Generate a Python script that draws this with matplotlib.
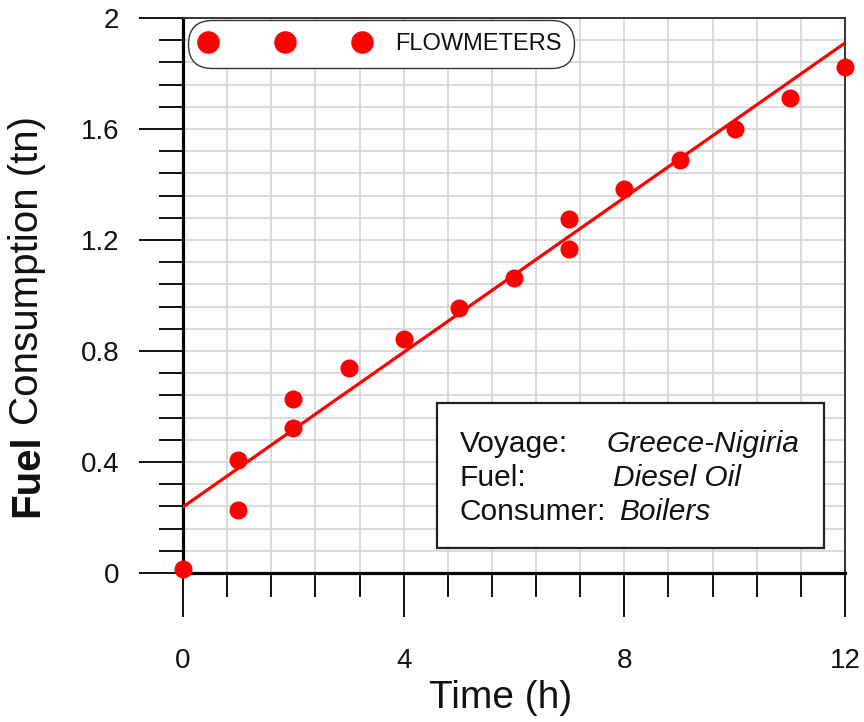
import matplotlib
matplotlib.use("Agg")
import matplotlib.pyplot as plt
from matplotlib.patches import Rectangle
from matplotlib.ticker import MultipleLocator, FuncFormatter

plt.rcParams["font.family"] = ["Liberation Sans", "DejaVu Sans"]

# flowmeter readings
time_h = [0, 1, 1, 2, 2, 3, 4, 5, 6, 7, 7, 8, 9, 10, 11, 12]
fuel_tn = [0.014, 0.407, 0.227, 0.627, 0.523, 0.739, 0.843, 0.955,
           1.063, 1.276, 1.168, 1.384, 1.490, 1.600, 1.712, 1.823]

# linear fit end points
fit_time = [0, 12]
fit_fuel = [0.238, 1.910]

info_keys = ["Voyage:", "Fuel:", "Consumer:"]
info_vals = ["Greece-Nigiria", "Diesel Oil", "Boilers"]

W, H = 864, 722
fig = plt.figure(figsize=(W / 100, H / 100), dpi=100)
ax = fig.add_axes([183 / W, 1 - 573 / H, 662 / W, 555 / H])

ax.set_xlim(0, 12)
ax.set_ylim(0, 2)

ax.xaxis.set_major_locator(MultipleLocator(4))
ax.xaxis.set_minor_locator(MultipleLocator(0.8))
ax.yaxis.set_major_locator(MultipleLocator(0.4))
ax.yaxis.set_minor_locator(MultipleLocator(0.08))
fmt = FuncFormatter(lambda v, p: "%g" % round(v, 2))
ax.xaxis.set_major_formatter(fmt)
ax.yaxis.set_major_formatter(fmt)

ax.grid(which="both", color="#d4d4d4", lw=1.2, zorder=0)
ax.set_axisbelow(True)

ax.tick_params(which="both", direction="out", top=False, right=False,
               color="#111111", width=1.4, labelcolor="#111111")
ax.tick_params(which="major", length=32, labelsize=20)
ax.tick_params(axis="x", which="major", pad=22)
ax.tick_params(axis="y", which="major", pad=14)
ax.tick_params(which="minor", length=17)

for s in ["left", "bottom"]:
    ax.spines[s].set_linewidth(2.3)
    ax.spines[s].set_color("#000000")
for s in ["top", "right"]:
    ax.spines[s].set_linewidth(1.4)
    ax.spines[s].set_color("#333333")

ax.plot(fit_time, fit_fuel, color="#ff0000", lw=2.3, zorder=3)
ax.plot(time_h, fuel_tn, "o", color="#ff0000", ms=13, mec="none",
        clip_on=False, zorder=4, label="FLOWMETERS")

leg = ax.legend(loc="upper left", bbox_to_anchor=(0.0076, 0.9964),
                borderaxespad=0, numpoints=3, handlelength=7.1,
                handletextpad=1.1, borderpad=0.55, markerscale=1.25,
                fontsize=17, frameon=True, fancybox=True, framealpha=1,
                edgecolor="#333333")
leg.get_frame().set_boxstyle("round,pad=0,rounding_size=1.0")
leg.get_frame().set_linewidth(1.0)
leg.set_zorder(6)
for t in leg.get_texts():
    t.set_color("#111111")

# info box in the lower right
ax.add_patch(Rectangle((0.3837, 0.045), 0.5846, 0.2613, transform=ax.transAxes,
                       facecolor="white", edgecolor="#222222", lw=1.6, zorder=5))
key_y = [0.218, 0.1568, 0.0955]
val_x = [0.6405, 0.6495, 0.6586]
for k, v, y, vx in zip(info_keys, info_vals, key_y, val_x):
    ax.text(0.4184, y, k, transform=ax.transAxes, fontsize=21.5,
            va="baseline", color="#111111", zorder=6)
    ax.text(vx, y, v, transform=ax.transAxes, fontsize=21.5, style="italic",
            va="baseline", color="#111111", zorder=6)

# axis titles
fig.text(501 / W, 1 - 698 / H, "Time (h)", ha="center", va="center",
         fontsize=28, color="#111111")
fig.text(27 / W, 1 - 517 / H, "Fuel", rotation=90, ha="center", va="bottom",
         fontsize=29, fontweight="bold", color="#111111")
fig.text(27 / W, 1 - 425 / H, "Consumption (tn)", rotation=90, ha="center",
         va="bottom", fontsize=29, color="#111111")

fig.savefig("out.png", dpi=100)
